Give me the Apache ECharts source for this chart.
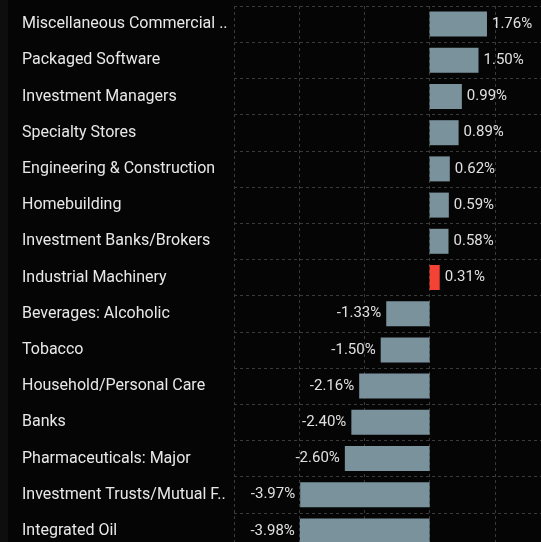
<!DOCTYPE html>
<html>
<head>
<meta charset="utf-8">
<script src="https://cdn.jsdelivr.net/npm/echarts@6/dist/echarts.min.js"></script>
<style>
  html, body { margin: 0; padding: 0; background: #0e0e0e; overflow: hidden; }
  #chart { position: absolute; left: 8px; top: 0; width: 552px; height: 549px; }
</style>
</head>
<body>
<div id="chart"></div>
<script>
var categories = [
  "Miscellaneous Commercial Services",
  "Packaged Software",
  "Investment Managers",
  "Specialty Stores",
  "Engineering & Construction",
  "Homebuilding",
  "Investment Banks/Brokers",
  "Industrial Machinery",
  "Beverages: Alcoholic",
  "Tobacco",
  "Household/Personal Care",
  "Banks",
  "Pharmaceuticals: Major",
  "Investment Trusts/Mutual Funds",
  "Integrated Oil"
];
var values = [1.76, 1.50, 0.99, 0.89, 0.62, 0.59, 0.58, 0.31, -1.33, -1.50, -2.16, -2.40, -2.60, -3.97, -3.98];
var highlighted = ["Industrial Machinery"];

var barColor = "#7a929c";
var hiColor = "#f44336";

var chart = echarts.init(document.getElementById("chart"));

var seriesData = values.map(function (v, i) {
  return {
    value: v,
    itemStyle: { color: highlighted.indexOf(categories[i]) >= 0 ? hiColor : barColor },
    label: { position: v < 0 ? "left" : "right" }
  };
});

var option = {
  backgroundColor: "#050505",
  animation: false,
  grid: { left: 226, top: 6, right: 0, bottom: 0, containLabel: false },
  xAxis: {
    type: "value",
    min: -6,
    max: 4,
    interval: 2,
    axisLabel: { show: false },
    axisLine: { show: false },
    axisTick: { show: false },
    splitLine: { show: true, lineStyle: { color: "#3a3a3a", type: [3, 3], width: 1 } }
  },
  yAxis: {
    type: "category",
    inverse: true,
    data: categories,
    axisLine: { show: false },
    axisTick: { show: false },
    splitLine: { show: true, lineStyle: { color: "#3a3a3a", type: [3, 3], width: 1 } },
    axisLabel: {
      align: "left",
      margin: 212,
      color: "#e8e8e8",
      fontFamily: "Roboto",
      fontSize: 16,
      width: 210,
      overflow: "truncate",
      ellipsis: "..",
      padding: [4, 0, 0, 0]
    }
  },
  series: [{
    type: "bar",
    data: seriesData,
    barWidth: 25,
    label: {
      show: true,
      distance: 5,
      color: "#e0e0e0",
      fontFamily: "Roboto",
      fontSize: 15,
      padding: [3, 0, 0, 0],
      formatter: function (p) { return p.value.toFixed(2) + "%"; }
    }
  }]
};
chart.setOption(option);
</script>
</body>
</html>
